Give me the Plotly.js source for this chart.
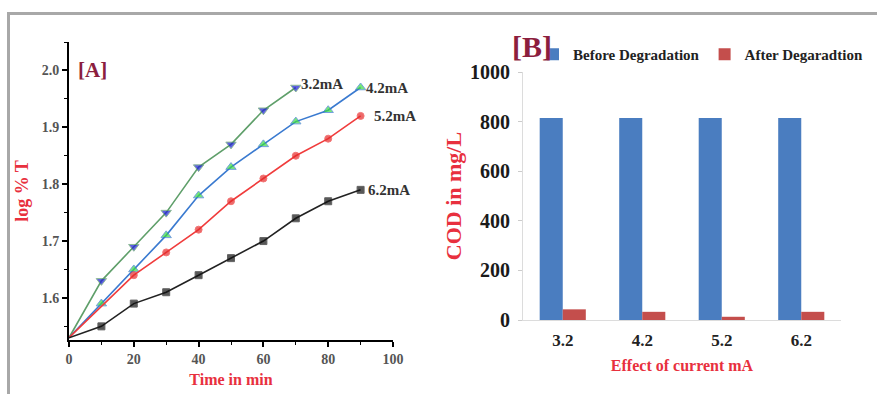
<!DOCTYPE html>
<html>
<head>
<meta charset="utf-8">
<script src="https://cdn.plot.ly/plotly-3.0.1.min.js"></script>
<style>
  html, body { margin: 0; padding: 0; background: #ffffff; }
  #chart { width: 877px; height: 394px; }
</style>
</head>
<body>
<div id="chart"></div>
<script>
// ---- Panel A data: log % T vs time ----
const time32 = [0, 10, 20, 30, 40, 50, 60, 70];
const logT32 = [1.53, 1.63, 1.69, 1.75, 1.83, 1.87, 1.93, 1.97];
const time42 = [0, 10, 20, 30, 40, 50, 60, 70, 80, 90];
const logT42 = [1.53, 1.59, 1.65, 1.71, 1.78, 1.83, 1.87, 1.91, 1.93, 1.97];
const time52 = [0, 20, 30, 40, 50, 60, 70, 80, 90];
const logT52 = [1.53, 1.64, 1.68, 1.72, 1.77, 1.81, 1.85, 1.88, 1.92];
const time62 = [0, 10, 20, 30, 40, 50, 60, 70, 80, 90];
const logT62 = [1.53, 1.55, 1.59, 1.61, 1.64, 1.67, 1.70, 1.74, 1.77, 1.79];
const seriesLabels = ['3.2mA', '4.2mA', '5.2mA', '6.2mA'];

// ---- Panel B data: COD ----
const currents = ['3.2', '4.2', '5.2', '6.2'];
const codBefore = [815, 815, 815, 815];
const codAfter = [43, 33, 13, 33];
const barNames = ['Before Degradation', 'After Degaradtion'];

const W = 877, H = 394;
const px = v => v / W;
const py = v => 1 - v / H;
const serif = 'Liberation Serif, Times New Roman, serif';

// first point (origin) is drawn without a marker
function sizes(n, s) { const a = new Array(n).fill(s); a[0] = 0; return a; }

const traces = [
  { x: time32, y: logT32, type: 'scatter', mode: 'lines+markers', xaxis: 'x', yaxis: 'y', showlegend: false,
    line: { color: '#5f9f6a', width: 1.6 },
    marker: { symbol: 'triangle-down', color: '#1c1cd8', size: sizes(time32.length, 9) } },
  { x: time42, y: logT42, type: 'scatter', mode: 'lines+markers', xaxis: 'x', yaxis: 'y', showlegend: false,
    line: { color: '#3a7ad0', width: 1.6 },
    marker: { symbol: 'triangle-up', color: '#3ede3e', size: sizes(time42.length, 9) } },
  { x: time52, y: logT52, type: 'scatter', mode: 'lines+markers', xaxis: 'x', yaxis: 'y', showlegend: false,
    line: { color: '#f03c3c', width: 1.6 },
    marker: { symbol: 'circle', color: '#e42a2a', size: sizes(time52.length, 7) } },
  { x: time62, y: logT62, type: 'scatter', mode: 'lines+markers', xaxis: 'x', yaxis: 'y', showlegend: false,
    line: { color: '#222222', width: 1.6 },
    marker: { symbol: 'square', color: '#111111', size: sizes(time62.length, 7) } },
  { x: currents, y: codBefore, type: 'bar', name: barNames[0], xaxis: 'x2', yaxis: 'y2',
    marker: { color: '#4a7dc0' } },
  { x: currents, y: codAfter, type: 'bar', name: barNames[1], xaxis: 'x2', yaxis: 'y2',
    marker: { color: '#c44e4c' } }
];

const lastPt = (xs, ys) => [xs[xs.length - 1], ys[ys.length - 1]];
const ends = [lastPt(time32, logT32), lastPt(time42, logT42), lastPt(time52, logT52), lastPt(time62, logT62)];
const labelShift = [[3, 4], [3, 0], [11, 0], [5, 0]];

const annFont = { family: serif, size: 15, color: '#333333', weight: 'bold' };
const annotations = ends.map((e, i) => ({
  x: e[0], y: e[1], xref: 'x', yref: 'y', text: seriesLabels[i], showarrow: false,
  xanchor: 'left', yanchor: 'middle', xshift: labelShift[i][0], yshift: labelShift[i][1], font: annFont
}));
annotations.push({ x: px(76), y: py(70), xref: 'paper', yref: 'paper', text: '[A]', showarrow: false,
  xanchor: 'left', yanchor: 'middle', font: { family: serif, size: 21, color: '#8c1e3e', weight: 'bold' } });
annotations.push({ x: px(510), y: py(46), xref: 'paper', yref: 'paper', text: '[B]', showarrow: false,
  xanchor: 'left', yanchor: 'middle', font: { family: serif, size: 30, color: '#8c1e3e', weight: 'bold' } });

const layout = {
  width: W, height: H,
  margin: { l: 0, r: 0, t: 0, b: 0 },
  paper_bgcolor: '#ffffff', plot_bgcolor: 'rgba(0,0,0,0)',
  showlegend: true,
  legend: { orientation: 'h', x: px(533), y: py(38), xanchor: 'left', yanchor: 'top',
    font: { family: serif, size: 15, color: '#222222', weight: 'bold' }, bgcolor: 'rgba(0,0,0,0)',
    itemwidth: 30 },
  bargap: 0.42, bargroupgap: 0,
  xaxis: { domain: [px(69), px(393)], range: [0, 100], tick0: 0, dtick: 20,
    showgrid: false, zeroline: false, showline: true, linecolor: '#000', linewidth: 2,
    ticks: 'outside', ticklen: 5, tickwidth: 1.5, tickcolor: '#000',
    minor: { ticks: 'outside', ticklen: 3, tickwidth: 1, dtick: 10, tickcolor: '#000', showgrid: false },
    tickfont: { family: serif, size: 14, color: '#555555', weight: 'bold' },
    title: { text: 'Time in min', font: { family: serif, size: 16, color: '#e8303e', weight: 'bold' }, standoff: 8 },
    anchor: 'y' },
  yaxis: { domain: [py(340), py(42)], range: [1.526, 2.05], tick0: 1.6, dtick: 0.1, tickformat: '.1f',
    showgrid: false, zeroline: false, showline: true, linecolor: '#000', linewidth: 2,
    ticks: 'outside', ticklen: 5, tickwidth: 1.5, tickcolor: '#000',
    minor: { ticks: 'outside', ticklen: 3, tickwidth: 1, dtick: 0.05, tickcolor: '#000', showgrid: false },
    tickfont: { family: serif, size: 14, color: '#555555', weight: 'bold' },
    title: { text: 'log % T', font: { family: serif, size: 18, color: '#e8303e', weight: 'bold' }, standoff: 8 },
    anchor: 'x' },
  xaxis2: { domain: [px(523), px(841)], type: 'category', range: [-0.5, 3.5],
    showgrid: false, zeroline: false, showline: true, linecolor: '#dcdcdc', linewidth: 1,
    ticks: '', ticklabelstandoff: 5,
    tickfont: { family: serif, size: 17, color: '#222222', weight: 'bold' },
    title: { text: 'Effect of current mA', font: { family: serif, size: 16, color: '#e8303e', weight: 'bold' }, standoff: 10 },
    anchor: 'y2' },
  yaxis2: { domain: [py(320), py(72)], range: [0, 1000], dtick: 200,
    showgrid: false, zeroline: false, showline: true, linecolor: '#dcdcdc', linewidth: 1,
    ticks: 'outside', ticklen: 4, tickcolor: '#cccccc', ticklabelstandoff: 4,
    tickfont: { family: serif, size: 20, color: '#1a1a1a', weight: 'bold' },
    title: { text: 'COD in mg/L', font: { family: serif, size: 22, color: '#e8303e', weight: 'bold' }, standoff: 2 },
    anchor: 'x2' },
  annotations: annotations,
  shapes: [
    { type: 'line', xref: 'paper', yref: 'paper', x0: px(7), x1: 1, y0: py(13.5), y1: py(13.5),
      line: { color: '#a8a8a8', width: 3 } },
    { type: 'line', xref: 'paper', yref: 'paper', x0: px(8.5), x1: px(8.5), y0: py(12), y1: 0,
      line: { color: '#a8a8a8', width: 3 } }
  ]
};

Plotly.newPlot('chart', traces, layout, { displayModeBar: false, responsive: false });
</script>
</body>
</html>
